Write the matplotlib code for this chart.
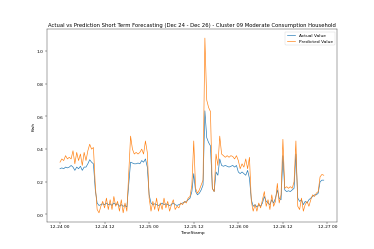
import numpy as np
import pandas as pd
import matplotlib
matplotlib.use("Agg")
import matplotlib.pyplot as plt

# half-hourly readings, 12-24 00:00 onwards
timestamps = pd.date_range("2023-12-24 00:00", periods=143, freq="30min")

actual = [
    0.28, 0.285, 0.28, 0.29, 0.285, 0.29, 0.30, 0.29, 0.27, 0.29,
    0.28, 0.295, 0.27, 0.29, 0.29, 0.31, 0.335, 0.32, 0.31, 0.15,
    0.07, 0.055, 0.06, 0.065, 0.06, 0.07, 0.06, 0.065, 0.055, 0.07,
    0.06, 0.065, 0.05, 0.06, 0.05, 0.055, 0.045, 0.18, 0.32, 0.315,
    0.31, 0.31, 0.315, 0.31, 0.33, 0.32, 0.34, 0.29, 0.12, 0.07,
    0.06, 0.065, 0.06, 0.055, 0.06, 0.07, 0.06, 0.065, 0.06, 0.055,
    0.06, 0.07, 0.06, 0.055, 0.06, 0.065, 0.07, 0.075, 0.08, 0.09,
    0.10, 0.14, 0.25, 0.14, 0.12, 0.13, 0.15, 0.18, 0.635, 0.47,
    0.44, 0.42, 0.16, 0.14, 0.26, 0.24, 0.34, 0.30, 0.295, 0.30,
    0.295, 0.29, 0.295, 0.30, 0.29, 0.30, 0.26, 0.25, 0.26, 0.25,
    0.24, 0.27, 0.22, 0.09, 0.05, 0.06, 0.045, 0.06, 0.05, 0.07,
    0.11, 0.08, 0.07, 0.06, 0.09, 0.07, 0.10, 0.15, 0.10, 0.09,
    0.36, 0.15, 0.14, 0.145, 0.14, 0.15, 0.16, 0.37, 0.10, 0.08,
    0.09, 0.06, 0.08, 0.07, 0.09, 0.10, 0.11, 0.12, 0.12, 0.13,
    0.20, 0.21, 0.21,
]

predicted = [
    0.32, 0.34, 0.33, 0.36, 0.34, 0.35, 0.34, 0.39, 0.31, 0.38,
    0.33, 0.37, 0.30, 0.38, 0.33, 0.39, 0.43, 0.40, 0.41, 0.18,
    0.03, 0.01, 0.05, 0.08, 0.04, 0.10, 0.03, 0.09, 0.03, 0.11,
    0.05, 0.08, 0.02, 0.09, 0.01, 0.07, 0.02, 0.25, 0.48, 0.40,
    0.37, 0.38, 0.37, 0.38, 0.40, 0.37, 0.45, 0.38, 0.10, 0.02,
    0.08, 0.03, 0.10, 0.02, 0.07, 0.03, 0.10, 0.04, 0.08, 0.02,
    0.06, 0.09, 0.03, 0.05, 0.04, 0.07, 0.06, 0.08, 0.07, 0.10,
    0.11, 0.18, 0.45, 0.16, 0.13, 0.15, 0.18, 0.21, 1.08, 0.70,
    0.655, 0.63, 0.16, 0.14, 0.37, 0.30, 0.48, 0.37, 0.36, 0.35,
    0.36, 0.35, 0.36, 0.355, 0.34, 0.36, 0.33, 0.28, 0.31, 0.29,
    0.34, 0.28, 0.35, 0.08, 0.02, 0.06, 0.02, 0.07, 0.04, 0.09,
    0.14, 0.05, 0.09, 0.03, 0.12, 0.05, 0.08, 0.19, 0.07, 0.12,
    0.46, 0.16, 0.17, 0.16, 0.17, 0.16, 0.20, 0.45, 0.05, 0.03,
    0.10, 0.02, 0.06, 0.08, 0.05, 0.09, 0.12, 0.11, 0.13, 0.14,
    0.23, 0.245, 0.24,
]

fig, ax = plt.subplots(figsize=(12, 8), dpi=31.2)
ax.plot(timestamps, actual, label="Actual Value")
ax.plot(timestamps, predicted, label="Predicted Value")
ax.set_title("Actual vs Prediction Short Term Forecasting (Dec 24 - Dec 26) - Cluster 09 Moderate Consumption Household")
ax.set_xlabel("TimeStamp")
ax.set_ylabel("Kwh")
ax.legend()
fig.savefig("out.png", dpi=31.2)
